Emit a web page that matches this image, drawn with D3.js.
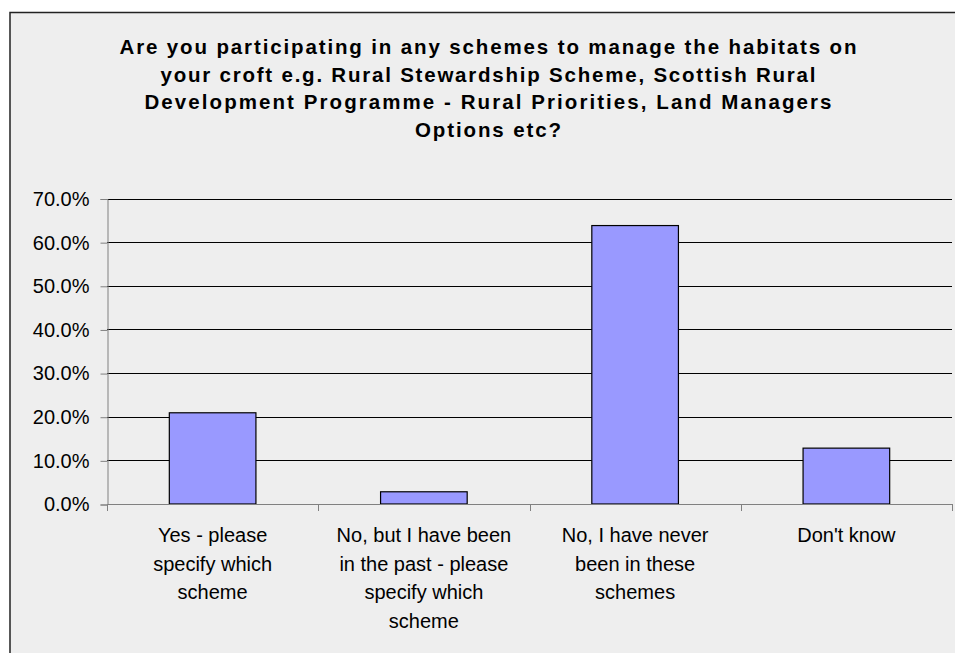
<!DOCTYPE html>
<html>
<head>
<meta charset="utf-8">
<script src="https://cdn.jsdelivr.net/npm/d3@7"></script>
<style>
  html, body { margin: 0; padding: 0; background: #ffffff; }
  svg { display: block; }
</style>
</head>
<body>
<script>
const titleLines = [
  "Are you participating in any schemes to manage the habitats on",
  "your croft e.g. Rural Stewardship Scheme, Scottish Rural",
  "Development Programme - Rural Priorities, Land Managers",
  "Options etc?"
];
const titleWidths = [737, 655, 687, 146];
const categories = [
  "Yes - please specify which scheme",
  "No, but I have been in the past - please specify which scheme",
  "No, I have never been in these schemes",
  "Don't know"
];
const categoryLines = [
  ["Yes - please", "specify which", "scheme"],
  ["No, but I have been", "in the past - please", "specify which", "scheme"],
  ["No, I have never", "been in these", "schemes"],
  ["Don't know"]
];
const values = [20.9, 2.8, 63.8, 12.8];
const yTicks = [0, 10, 20, 30, 40, 50, 60, 70];

const W = 955, H = 653;
const svg = d3.select("body").append("svg").attr("width", W).attr("height", H);

// chart frame
svg.append("rect")
  .attr("x", 10).attr("y", 12.5).attr("width", W + 10).attr("height", H + 10)
  .attr("fill", "#eeeeee").attr("stroke", "#222").attr("stroke-width", 1.5);

// title
const title = svg.append("text")
  .attr("font-family", "Liberation Sans, Arial, sans-serif")
  .attr("font-weight", "bold").attr("font-size", 20.5).attr("fill", "#000")
  .attr("text-anchor", "middle");
titleLines.forEach((t, i) => {
  title.append("tspan")
    .attr("x", 488).attr("y", 54 + i * 27.7)
    .attr("textLength", titleWidths[i]).attr("lengthAdjust", "spacing")
    .text(t);
});

const plot = { left: 107, right: 952, top: 198.5, bottom: 504 };
const x = d3.scaleBand().domain(categories).range([plot.left, plot.right]).padding(0);
const y = d3.scaleLinear().domain([0, 70]).range([plot.bottom, plot.top]);

// gridlines
svg.append("g").selectAll("line").data(yTicks.filter(d => d > 0)).join("line")
  .attr("x1", plot.left).attr("x2", plot.right)
  .attr("y1", d => Math.round(y(d)) + 0.5).attr("y2", d => Math.round(y(d)) + 0.5)
  .attr("stroke", "#000").attr("stroke-width", 1);

// y axis
const yAxis = d3.axisLeft(y).tickValues(yTicks).tickSize(7).tickPadding(11)
  .tickFormat(d => d.toFixed(1) + "%");
const gy = svg.append("g").attr("transform", `translate(${plot.left + 0.5},0.5)`).call(yAxis);
gy.select(".domain").attr("stroke", "#808080");
gy.selectAll(".tick line").attr("stroke", "#808080");
gy.selectAll(".tick text")
  .attr("font-family", "Liberation Sans, Arial, sans-serif")
  .attr("font-size", 20).attr("fill", "#000");

// bars
const barW = x.bandwidth() * 0.41;
svg.append("g").selectAll("rect").data(values).join("rect")
  .attr("x", (d, i) => x(categories[i]) + (x.bandwidth() - barW) / 2)
  .attr("y", d => y(d))
  .attr("width", barW)
  .attr("height", d => y(0) - y(d))
  .attr("fill", "#9999ff").attr("stroke", "#000").attr("stroke-width", 1.2);

// x axis line + boundary ticks
const gx = svg.append("g");
gx.append("line")
  .attr("x1", plot.left).attr("x2", plot.right)
  .attr("y1", plot.bottom + 0.5).attr("y2", plot.bottom + 0.5)
  .attr("stroke", "#808080");
const bounds = categories.map(c => x(c)).concat([x(categories[categories.length - 1]) + x.bandwidth()]);
gx.selectAll("line.tk").data(bounds).join("line").attr("class", "tk")
  .attr("x1", d => Math.round(d) + 0.5).attr("x2", d => Math.round(d) + 0.5)
  .attr("y1", plot.bottom).attr("y2", plot.bottom + 7)
  .attr("stroke", "#808080");

// x labels
categories.forEach((c, i) => {
  const t = svg.append("text")
    .attr("font-family", "Liberation Sans, Arial, sans-serif")
    .attr("font-size", 20).attr("fill", "#000").attr("text-anchor", "middle");
  categoryLines[i].forEach((ln, j) => {
    t.append("tspan").attr("x", x(c) + x.bandwidth() / 2).attr("y", 542 + j * 28.7).text(ln);
  });
});
</script>
</body>
</html>
